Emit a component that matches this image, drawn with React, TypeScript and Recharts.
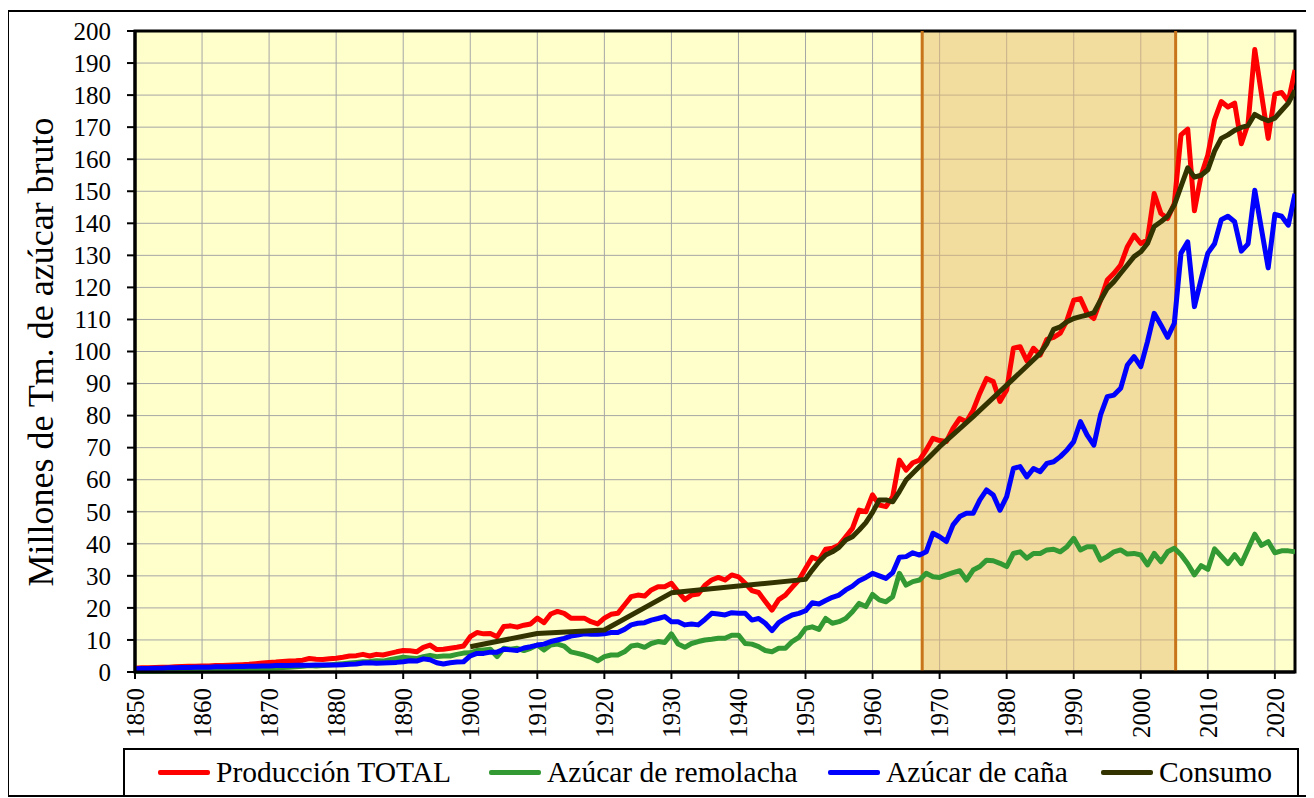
import React from "react";
import {
  LineChart,
  Line,
  XAxis,
  YAxis,
  CartesianGrid,
  ReferenceArea,
  ReferenceLine,
} from "recharts";

const FONT = "Liberation Serif, Times New Roman, serif";

const START_YEAR = 1850;

// Producción TOTAL 1850..2023
const total = [
  1.2, 1.3, 1.3, 1.4, 1.5, 1.5, 1.6, 1.7, 1.8, 1.8,
  1.9, 1.9, 2.0, 2.0, 2.1, 2.2, 2.3, 2.4, 2.6, 2.8,
  3.0, 3.1, 3.3, 3.4, 3.5, 3.7, 4.2, 4.0, 3.9, 4.1,
  4.3, 4.6, 5.0, 5.1, 5.5, 5.0, 5.5, 5.3, 5.8, 6.3,
  6.7, 6.6, 6.3, 7.7, 8.4, 7.0, 7.1, 7.4, 7.7, 8.1,
  11.0, 12.3, 11.9, 12.0, 11.0, 14.2, 14.4, 14.0, 14.6, 15.0,
  16.8, 15.4, 18.1, 18.9, 18.3, 16.8, 16.8, 16.8, 15.7, 15.0,
  16.8, 18.0, 18.3, 20.9, 23.5, 24.0, 23.7, 25.6, 26.6, 26.6,
  27.7, 25.0, 22.6, 24.0, 24.3, 27.1, 28.7, 29.5, 28.7, 30.3,
  29.7, 27.7, 25.4, 24.8, 22.0, 19.3, 22.6, 24.0, 26.4, 28.7,
  32.3, 35.8, 34.9, 38.3, 38.6, 39.6, 42.2, 44.8, 50.5, 50.0,
  55.3, 52.1, 51.6, 54.7, 66.1, 63.0, 65.3, 66.1, 69.3, 72.9,
  72.2, 71.9, 76.0, 79.1, 78.1, 81.7, 87.0, 91.6, 90.6, 84.4,
  88.0, 101.0, 101.5, 97.1, 101.0, 98.9, 103.8, 104.4, 105.7, 109.8,
  116.0, 116.5, 111.9, 110.3, 116.0, 122.3, 124.4, 127.0, 132.7, 136.3,
  133.7, 134.8, 149.3, 143.1, 141.5, 146.2, 167.6, 169.4, 143.9, 154.9,
  161.3, 172.3, 178.0, 176.3, 177.5, 164.8, 171.1, 194.2, 180.3, 166.5,
  180.3, 180.8, 178.0, 187.8,
];

// Azúcar de remolacha 1850..2023
const remolacha = [
  0.2, 0.2, 0.2, 0.2, 0.3, 0.3, 0.3, 0.3, 0.3, 0.3,
  0.4, 0.4, 0.5, 0.5, 0.6, 0.6, 0.7, 0.8, 0.9, 1.0,
  1.1, 1.2, 1.4, 1.5, 1.6, 1.8, 2.0, 1.9, 2.0, 2.2,
  2.4, 2.6, 2.8, 3.0, 3.2, 3.3, 3.5, 3.4, 3.8, 4.2,
  4.6, 4.4, 4.2, 4.8, 5.2, 4.8, 5.0, 5.0, 5.5, 5.9,
  6.0, 6.7, 6.9, 7.1, 4.8, 7.4, 7.1, 7.4, 6.7, 7.4,
  8.4, 6.9, 8.4, 8.7, 8.1, 6.3, 5.8, 5.3, 4.6, 3.5,
  4.8, 5.3, 5.3, 6.3, 8.1, 8.4, 7.7, 8.9, 9.5, 9.2,
  11.9, 8.7, 7.7, 8.9, 9.5, 10.0, 10.2, 10.5, 10.5, 11.5,
  11.5, 8.9, 8.7, 7.9, 6.7, 6.3, 7.4, 7.4, 9.5, 10.8,
  13.6, 14.1, 13.3, 16.7, 15.2, 15.7, 16.7, 18.8, 21.4, 20.4,
  24.2, 22.5, 21.9, 23.5, 30.8, 27.1, 28.2, 28.7, 30.8, 29.7,
  29.5, 30.3, 31.0, 31.6, 28.7, 31.8, 32.9, 34.9, 34.7, 33.9,
  32.9, 37.0, 37.5, 35.5, 37.0, 37.0, 38.1, 38.3, 37.5, 39.1,
  41.7, 38.1, 39.1, 39.1, 34.9, 36.0, 37.5, 38.1, 36.8, 37.0,
  36.5, 33.4, 37.0, 34.4, 37.5, 38.6, 36.6, 33.8, 30.3, 33.2,
  32.0, 38.4, 36.1, 33.8, 36.6, 33.8, 38.4, 43.0, 39.5, 40.7,
  37.2, 37.8, 37.8, 37.5,
];

// Azúcar de caña 1850..2023
const cana = [
  1.0, 1.1, 1.1, 1.2, 1.2, 1.3, 1.3, 1.4, 1.4, 1.5,
  1.5, 1.5, 1.6, 1.6, 1.6, 1.7, 1.7, 1.8, 1.8, 1.9,
  1.9, 2.0, 2.0, 2.0, 2.1, 2.1, 2.1, 2.2, 2.2, 2.2,
  2.2, 2.3, 2.4, 2.5, 2.8, 2.9, 2.7, 2.8, 2.9, 3.0,
  3.2, 3.5, 3.4, 4.1, 3.8, 2.9, 2.5, 2.9, 3.1, 3.2,
  5.0, 5.8, 5.8, 6.2, 6.2, 7.1, 6.9, 6.7, 7.5, 7.9,
  8.4, 8.7, 9.5, 10.0, 10.5, 11.2, 11.5, 11.9, 11.8, 11.8,
  11.9, 12.3, 12.3, 13.3, 14.7, 15.2, 15.4, 16.2, 16.7, 17.3,
  15.7, 15.7, 14.7, 15.0, 14.7, 16.4, 18.3, 18.1, 17.8, 18.5,
  18.3, 18.3, 16.2, 16.7, 15.2, 12.9, 15.4, 16.7, 17.8, 18.3,
  19.1, 21.6, 21.2, 22.3, 23.3, 24.0, 25.6, 26.8, 28.5, 29.5,
  30.8, 30.0, 29.2, 31.0, 35.8, 36.0, 37.2, 36.5, 37.5, 43.3,
  42.2, 40.7, 45.9, 48.5, 49.5, 49.5, 53.7, 56.8, 55.2, 50.5,
  54.7, 63.5, 64.1, 60.9, 63.5, 62.5, 65.1, 65.6, 67.2, 69.3,
  71.9, 78.1, 73.9, 70.8, 80.2, 85.9, 86.4, 88.5, 95.8, 98.4,
  95.3, 103.1, 111.9, 108.3, 104.4, 108.8, 130.7, 134.2, 114.0, 122.6,
  130.7, 133.6, 141.1, 142.2, 140.5, 131.3, 133.6, 150.3, 138.2, 126.1,
  142.8, 142.2, 139.4, 149.2,
];

// Consumo (años con dato)
const consumoYears = [
  1900, 1910, 1920, 1930, 1940, 1950, 1951, 1952, 1953, 1954, 1955, 1956,
  1957, 1958, 1959, 1960, 1961, 1962, 1963, 1964, 1965, 1966, 1967, 1968,
  1970, 1975, 1980, 1985, 1986, 1987, 1988, 1989, 1990, 1991, 1992, 1993,
  1994, 1995, 1996, 1997, 1998, 1999, 2000, 2001, 2002, 2003, 2004, 2005,
  2006, 2007, 2008, 2009, 2010, 2011, 2012, 2013, 2014, 2015, 2016, 2017,
  2018, 2019, 2020, 2021, 2022, 2023,
];
const consumoValues = [
  7.9, 12.0, 13.1, 24.7, 26.8, 28.9, 31.8, 34.4, 36.5, 37.5, 38.9, 41.2,
  42.2, 44.3, 46.6, 49.8, 53.7, 53.7, 53.1, 56.3, 59.9, 62.0, 64.1, 66.1,
  70.3, 79.7, 89.5, 99.4, 102.5, 106.9, 107.7, 109.3, 110.3, 110.9, 111.4, 112.1,
  116.0, 119.7, 121.8, 124.4, 127.0, 129.6, 131.1, 133.7, 139.0, 140.5, 142.2, 145.7,
  151.5, 157.3, 154.4, 155.0, 156.7, 162.5, 166.5, 167.6, 169.0, 169.9, 170.5, 174.0,
  172.8, 172.0, 172.8, 175.2, 177.5, 181.5,
];

const xTicks = [
  1850, 1860, 1870, 1880, 1890, 1900, 1910, 1920, 1930, 1940, 1950, 1960,
  1970, 1980, 1990, 2000, 2010, 2020,
];
const yTicks = [
  0, 10, 20, 30, 40, 50, 60, 70, 80, 90, 100, 110, 120, 130, 140, 150, 160,
  170, 180, 190, 200,
];

const bandStart = 1967.4;
const bandEnd = 2005.2;

const seriesInfo = [
  { key: "total", name: "Producción TOTAL", color: "#FF0000" },
  { key: "remolacha", name: "Azúcar de remolacha", color: "#339933" },
  { key: "cana", name: "Azúcar de caña", color: "#0000FF" },
  { key: "consumo", name: "Consumo", color: "#333300" },
];

const consumoMap: Record<number, number> = {};
consumoYears.forEach((y, i) => {
  consumoMap[y] = consumoValues[i];
});

const data = total.map((v, i) => {
  const year = START_YEAR + i;
  return {
    year,
    total: v,
    remolacha: remolacha[i],
    cana: cana[i],
    consumo: consumoMap[year] !== undefined ? consumoMap[year] : null,
  };
});

const XTick = (props: any) => {
  const { x, y, payload } = props;
  return (
    <text
      x={x}
      y={y}
      transform={`rotate(-90 ${x} ${y})`}
      textAnchor="end"
      dy="0.35em"
      style={{ fontFamily: FONT, fontSize: 25, fill: "#000" }}
    >
      {payload.value}
    </text>
  );
};

const YTick = (props: any) => {
  const { x, y, payload } = props;
  return (
    <text
      x={x}
      y={y}
      textAnchor="end"
      dy="0.35em"
      style={{ fontFamily: FONT, fontSize: 25, fill: "#000" }}
    >
      {payload.value}
    </text>
  );
};

const legendLefts = [33, 364, 703, 976];

export default function App() {
  return (
    <div style={{ position: "relative", width: 1298, height: 790, fontFamily: FONT }}>
      <div
        style={{
          position: "absolute",
          left: -1,
          top: 2,
          width: 1302,
          height: 787,
          border: "2px solid #000",
          boxSizing: "border-box",
          background: "#fff",
        }}
      />
      <div style={{ position: "absolute", left: 0, top: 0 }}>
        <LineChart
          width={1298}
          height={790}
          data={data}
          margin={{ top: 23, right: 11, left: 67, bottom: 46 }}
          style={{ fontFamily: FONT }}
        >
          <CartesianGrid stroke="#a6a6a6" strokeWidth={1} fill="#FFFFCC" />
          <ReferenceArea
            x1={bandStart}
            x2={bandEnd}
            y1={0}
            y2={200}
            fill="#E5B970"
            fillOpacity={0.5}
            stroke="none"
          />
          <ReferenceLine x={bandStart} stroke="#C8741A" strokeWidth={3} />
          <ReferenceLine x={bandEnd} stroke="#C8741A" strokeWidth={3} />
          <XAxis
            dataKey="year"
            type="number"
            domain={[1850, 2023]}
            ticks={xTicks}
            interval={0}
            height={80}
            tick={<XTick />}
            tickSize={7}
            tickMargin={9}
            axisLine={{ stroke: "#000", strokeWidth: 3 }}
            tickLine={{ stroke: "#000", strokeWidth: 2 }}
            allowDataOverflow
          />
          <YAxis
            type="number"
            domain={[0, 200]}
            ticks={yTicks}
            interval={0}
            width={60}
            tickSize={8}
            tickMargin={16}
            tick={<YTick />}
            axisLine={{ stroke: "#000", strokeWidth: 3 }}
            tickLine={{ stroke: "#000", strokeWidth: 2 }}
          />
          <ReferenceArea
            x1={1850}
            x2={2023}
            y1={0}
            y2={200}
            fill="none"
            stroke="#000"
            strokeWidth={3}
          />
          {seriesInfo.map((s) => (
            <Line
              key={s.key}
              dataKey={s.key}
              name={s.name}
              type="linear"
              stroke={s.color}
              strokeWidth={5}
              dot={false}
              activeDot={false}
              connectNulls
              isAnimationActive={false}
              strokeLinejoin="round"
            />
          ))}
        </LineChart>
      </div>
      <div
        style={{
          position: "absolute",
          left: 33,
          top: 344,
          transform: "translate(-50%, -50%) rotate(-90deg)",
          whiteSpace: "nowrap",
          fontSize: 36,
          color: "#000",
        }}
      >
        Millones de Tm. de azúcar bruto
      </div>
      <div
        style={{
          position: "absolute",
          left: 115,
          top: 740,
          width: 1176,
          height: 49,
          border: "2px solid #000",
          boxSizing: "border-box",
          background: "#fff",
        }}
      >
        {seriesInfo.map((s, i) => (
          <div
            key={s.key}
            style={{
              position: "absolute",
              left: legendLefts[i],
              top: 0,
              height: 45,
              display: "flex",
              alignItems: "center",
              whiteSpace: "nowrap",
            }}
          >
            <span
              style={{
                display: "inline-block",
                width: 52,
                height: 5,
                background: s.color,
                marginRight: 6,
                borderRadius: 2,
              }}
            />
            <span style={{ fontSize: 29.5, color: "#000" }}>{s.name}</span>
          </div>
        ))}
      </div>
    </div>
  );
}
